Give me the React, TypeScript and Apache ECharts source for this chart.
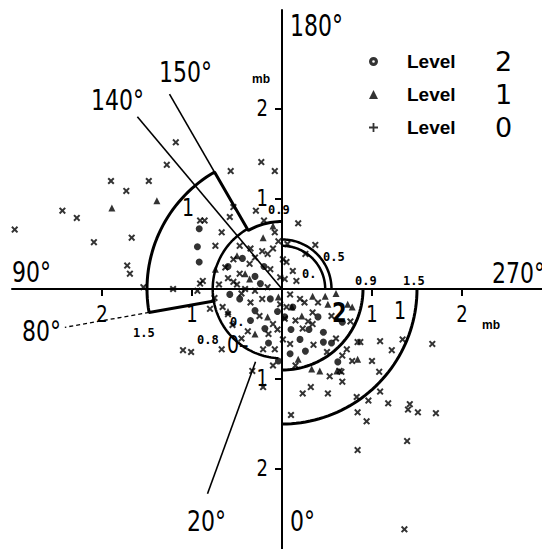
import React, { useEffect, useRef } from "react";
import * as echarts from "echarts";

// ---- data (mb, cartesian: x<0 = 90° side, y>0 = 180° side) ----
const level2: number[][] = [
  [-0.92, 0.67], [-0.94, 0.47], [-0.92, 0.3], [-0.44, 0.34], [-0.3, 0.14], [0.12, -0.2],
  [0.46, -0.48], [0.46, -0.59], [0.67, -0.37], [0.62, -0.81], [-0.13, -0.11], [-0.3, -0.24],
  [-0.19, -0.44], [0.03, -0.31], [0.2, -0.56], [0.09, -0.72], [-0.04, -0.8], [-0.58, -0.06],
  [-0.24, 0.06], [-0.47, -0.11], [0.4, -0.31], [0.26, -0.69],
  [-0.35, -0.35], [-0.05, -0.25], [0.1, -0.45], [0.3, -0.45], [-0.15, -0.6], [0.55, -0.6],
  [-0.6, 0.25], [-0.2, 0.25],
];
const level1: number[][] = [
  [-1.39, 0.98], [-1.89, 0.9], [-0.21, 0.57], [-0.74, 0.22], [-0.36, 0.11], [0.34, -0.08],
  [0.51, -0.17], [0.73, -0.17], [0.18, -0.78], [0.33, -0.89], [0.42, -0.91], [0.61, -0.91],
  [0.48, -0.08], [0.78, -0.2], [0.84, -0.78], [-0.41, 0.17], [-0.5, 0.37], [-0.04, -0.09],
  [-0.16, -0.31], [0.11, -0.2], [-0.6, -0.25], [-0.3, -0.5], [0.22, -0.3], [0.6, -0.05],
  [-0.1, 0.7],
];
const level0: number[][] = [
  [-1.18, 1.63], [-1.28, 1.38], [-1.9, 1.2], [-1.48, 1.2], [-1.73, 1.09], [-2.44, 0.87],
  [-2.28, 0.79], [-2.97, 0.66], [-2.09, 0.52], [-1.67, 0.57], [-1.72, 0.26], [-1.69, 0.17],
  [-0.57, 1.31], [-0.23, 1.41], [-0.08, 1.31], [-0.29, 0.87], [-0.2, 0.76], [-0.54, 0.91],
  [-0.58, 0.8], [-0.91, 0.76], [-0.86, 0.76], [0.18, 0.73], [0.37, 0.49], [-1.21, 0.0],
  [-0.94, -0.02], [-0.91, 0.06], [-1.54, 0.02], [-1.1, -0.68], [-1.01, -0.7], [-0.8, -0.22],
  [-0.67, -0.67], [-0.21, -1.09], [-0.33, -0.91], [-0.67, 0.63], [-0.08, 0.63], [-0.04, 0.53],
  [-0.47, 0.48], [-0.22, 0.42], [-0.16, 0.39], [-0.54, 0.33], [-0.63, 0.24], [-0.02, 0.13],
  [-0.88, 0.09], [-0.54, 0.08], [0.06, 0.5], [0.01, 0.33], [0.03, 0.11], [0.12, 0.2],
  [-0.66, -0.2], [-0.6, -0.28], [-0.38, -0.47], [-0.1, -0.39], [-0.02, -0.17], [-0.21, -0.67],
  [0.01, -0.56], [0.34, -0.26], [0.29, -0.36], [0.23, -0.44], [0.34, -0.39], [0.76, -0.36],
  [0.87, -0.59], [0.72, -0.67], [0.67, -0.74], [0.78, -0.8], [0.64, -0.91], [0.53, -0.97],
  [1.67, -0.61], [1.34, -0.56], [1.22, -0.68], [1.09, -0.58], [1.0, -0.8], [1.08, -0.92],
  [0.84, -0.59], [0.66, -0.92], [0.67, -1.03], [0.32, -1.09], [0.23, -1.16], [0.51, -1.16],
  [0.83, -1.2], [0.96, -1.24], [1.09, -1.14], [1.18, -1.27], [0.84, -1.37], [0.94, -1.47],
  [1.42, -1.28], [1.4, -1.34], [1.51, -1.37], [1.71, -1.38], [1.39, -1.69], [0.84, -1.79],
  [0.1, -1.4], [1.36, -2.67], [-0.41, 0.0], [-0.3, -0.02], [-0.16, 0.02], [0.09, -0.06],
  [0.2, -0.11], [-0.22, -0.11], [-0.36, 0.28], [-0.13, 0.22], [-0.47, 0.17], [0.03, -0.33],
  [-0.08, -0.67], [0.09, -0.61], [0.16, 0.09], [0.26, 0.39], [-0.74, 0.48],
  [-0.6, 0.12], [-0.5, 0.05], [-0.45, -0.05], [-0.35, -0.15], [-0.25, -0.3], [-0.15, -0.5],
  [-0.05, -0.45], [0.05, -0.2], [0.15, -0.35], [0.25, -0.15], [0.4, -0.15], [0.55, -0.3],
  [0.6, -0.55], [0.5, -0.7], [0.35, -0.62], [0.15, -0.85], [-0.1, -0.85], [-0.3, 0.35],
  [-0.35, 0.45], [-0.1, 0.45], [0.05, 0.3], [-0.7, 0.05], [-0.75, -0.1], [-0.55, -0.4],
  [-0.45, -0.55],
];
const axisTickValues = [-2, -1, 1, 2];

// region boundaries (azimuth in degrees, radii in mb)
const sectorUpperLeft = { from: 80, to: 150, inner: 0.75, outer: 1.5 };
const innerCircle = { r: 0.77, from: 3, to: 150 };
const lowerRightArcs = [0.9, 1.5];
const upperRightArcs = [0.48, 0.55];
const rays = [
  { az: 140, r0: 0, r1: 2.5, dashed: false },
  { az: 150, r0: 1.5, r1: 2.5, dashed: false },
  { az: 20, r0: 0.86, r1: 2.42, dashed: false },
  { az: 80, r0: 1.5, r1: 2.45, dashed: true },
];

const DV = "'DejaVu Sans', sans-serif";
const SANS = "'Liberation Sans', Arial, sans-serif";
const MONO = "'DejaVu Sans Mono', 'Liberation Mono', monospace";

const D = Math.PI / 180;
const P = (r: number, az: number) => [-r * Math.sin(az * D), -r * Math.cos(az * D)];
const arc = (r: number, a0: number, a1: number) => {
  const pts: number[][] = [];
  for (let a = a0; a < a1; a += 2) pts.push(P(r, a));
  pts.push(P(r, a1));
  return pts;
};

const X_PATH = "path://M0,2L2,0L5,3L8,0L10,2L7,5L10,8L8,10L5,7L2,10L0,8L3,5Z";
const PLUS_PATH = "path://M4,0H6V4H10V6H6V10H4V6H0V4H4Z";
const RING_PATH =
  "path://M0,5A5,5 0 1,0 10,5A5,5 0 1,0 0,5ZM3.5,5A1.5,1.5 0 1,1 6.5,5A1.5,1.5 0 1,1 3.5,5Z";

const lineSeries = (data: number[][], width: number, dashed = false) => ({
  type: "line",
  data,
  symbol: "none",
  silent: true,
  z: 1,
  lineStyle: { color: "#000", width, type: dashed ? [4, 3] : "solid" },
});

// [text, x, y, fontSize, family, weight, scaleY]
const texts: [string, number, number, number, string, string, number][] = [
  ["180°", 290, 26, 22, DV, "normal", 1.35],
  ["150°", 159, 72, 22, DV, "normal", 1.3],
  ["140°", 91, 100, 22, DV, "normal", 1.3],
  ["90°", 12, 272, 22, DV, "normal", 1.3],
  ["80°", 22, 331, 22, DV, "normal", 1.3],
  ["270°", 492, 273, 22, DV, "normal", 1.3],
  ["20°", 187, 521, 22, DV, "normal", 1.3],
  ["0°", 290, 521, 22, DV, "normal", 1.3],
  ["mb", 252, 79, 12, SANS, "bold", 1],
  ["mb", 482, 325, 12, SANS, "bold", 1],
  ["1", 182, 208, 19, DV, "normal", 1.3],
  ["1", 394, 311, 19, DV, "normal", 1.3],
  ["2", 332, 312, 21, DV, "bold", 1.3],
  ["0–", 227, 345, 19, DV, "normal", 1.3],
  ["0.9", 268, 210, 12, MONO, "bold", 1],
  ["0.5", 323, 257, 12, MONO, "bold", 1],
  ["0.", 302, 274, 12, MONO, "bold", 1],
  ["0.9", 355, 281, 12, MONO, "bold", 1],
  ["1.5", 403, 281, 12, MONO, "bold", 1],
  ["1.5", 133, 333, 12, MONO, "bold", 1],
  ["0.8", 197, 340, 12, MONO, "bold", 1],
  ["0.", 230, 322, 12, MONO, "bold", 1],
];

const txt = (t: string, x: number, y: number, fs: number, ff: string, fw: string, sy: number, align = "left") => ({
  type: "text",
  x,
  y,
  scaleY: sy,
  z: 10,
  style: { text: t, fontSize: fs, fontFamily: ff, fontWeight: fw, fill: "#000", align, verticalAlign: "middle" },
});

export default function App() {
  const ref = useRef<HTMLDivElement>(null);
  useEffect(() => {
    if (!ref.current) return;
    const chart = echarts.init(ref.current, null, { renderer: "svg" });
    const s = sectorUpperLeft;
    const outlineA = [
      P(s.inner, s.from), P(s.outer, s.from),
      ...arc(s.outer, s.from, s.to),
      P(s.inner, s.to),
      ...arc(s.inner, s.to, 180),
    ];
    const axisCommon = {
      type: "value",
      interval: 1,
      splitLine: { show: false },
      axisLine: { onZero: true, lineStyle: { color: "#000", width: 2 } },
      axisTick: { customValues: axisTickValues, length: 7, lineStyle: { color: "#000", width: 2 } },
      axisLabel: { show: false },
    };
    const option: any = {
      animation: false,
      backgroundColor: "#fff",
      grid: { left: 12, width: 536.4, top: 10, height: 549, outerBoundsMode: "none", containLabel: false },
      xAxis: { ...axisCommon, min: -3, max: 2.96 },
      yAxis: { ...axisCommon, min: -3, max: 3.1 },
      legend: {
        orient: "vertical",
        left: 364,
        top: 43,
        itemWidth: 9,
        itemHeight: 9,
        itemGap: 6,
        selectedMode: false,
        data: [
          { name: "Level 2", icon: RING_PATH },
          { name: "Level 1", icon: "triangle" },
          { name: "Level 0", icon: PLUS_PATH },
        ],
        formatter: (n: string) => `{a|Level}{b|${n.split(" ")[1]}}`,
        textStyle: {
          rich: {
            a: { fontFamily: SANS, fontWeight: "bold", fontSize: 19, color: "#000", width: 88, padding: [0, 0, 0, 24], lineHeight: 20 },
            b: { fontFamily: DV, fontSize: 27, color: "#000", lineHeight: 20 },
          },
        },
      },
      series: [
        lineSeries(outlineA, 3),
        lineSeries(arc(innerCircle.r, innerCircle.from, innerCircle.to), 2.5),
        ...lowerRightArcs.map((r) => lineSeries(arc(r, 270, 360), 3)),
        ...upperRightArcs.map((r) => lineSeries(arc(r, 180, 270), 2.5)),
        ...rays.map((r) => lineSeries([P(r.r0, r.az), P(r.r1, r.az)], r.dashed ? 1.3 : 1.6, r.dashed)),
        { name: "Level 2", type: "scatter", symbol: "circle", symbolSize: 7, data: level2, itemStyle: { color: "#000" }, z: 3 },
        { name: "Level 1", type: "scatter", symbol: "triangle", symbolSize: 7, data: level1, itemStyle: { color: "#000" }, z: 3 },
        { name: "Level 0", type: "scatter", symbol: X_PATH, symbolSize: 7, data: level0, itemStyle: { color: "#000" }, z: 3 },
      ],
    };
    chart.setOption(option);
    const axisTexts: any[] = [];
    axisTickValues.forEach((v) => {
      const [px, py] = chart.convertToPixel({ gridIndex: 0 }, [v, 0]) as number[];
      axisTexts.push(txt(String(Math.abs(v)), px, py + 25, 18, DV, "normal", 1.3, "center"));
      const [qx, qy] = chart.convertToPixel({ gridIndex: 0 }, [0, v]) as number[];
      axisTexts.push(txt(String(Math.abs(v)), qx - 14, qy - 1, 18, DV, "normal", 1.3, "right"));
    });
    chart.setOption({
      graphic: [...texts.map((t) => txt(...t)), ...axisTexts],
    });
    return () => chart.dispose();
  }, []);
  return <div ref={ref} style={{ width: 550, height: 557, margin: -8 }} />;
}
